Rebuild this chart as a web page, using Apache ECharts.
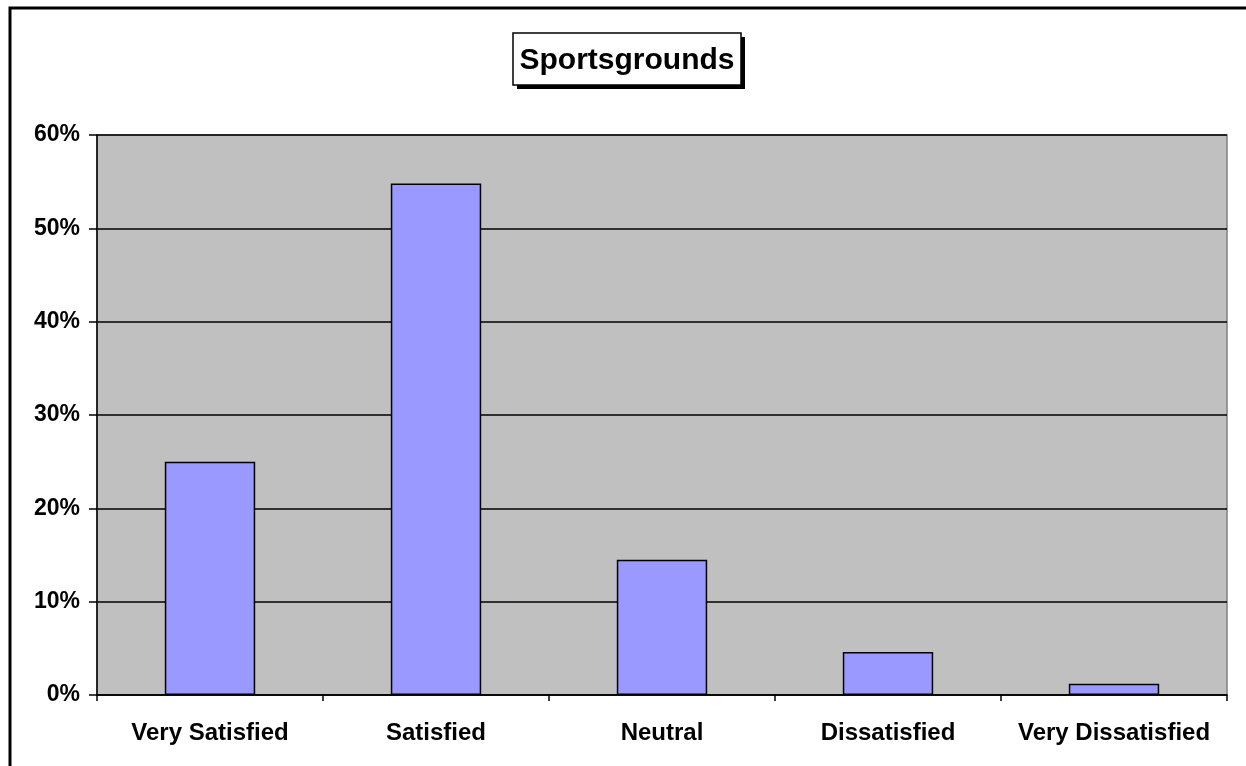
<!DOCTYPE html>
<html>
<head>
<meta charset="utf-8">
<script src="https://cdn.jsdelivr.net/npm/echarts@6/dist/echarts.min.js"></script>
<style>
  html, body { margin: 0; padding: 0; background: #fff; }
  #chart { width: 1246px; height: 766px; }
</style>
</head>
<body>
<div id="chart"></div>
<script>
// Survey results: satisfaction with sportsgrounds (share of responses, %)
const categories = ['Very Satisfied', 'Satisfied', 'Neutral', 'Dissatisfied', 'Very Dissatisfied'];
const shares = [25.0, 54.8, 14.5, 4.6, 1.2];
const chartTitle = 'Sportsgrounds';

const chart = echarts.init(document.getElementById('chart'), null, { renderer: 'canvas' });
const font = "'Liberation Sans', Arial, sans-serif";

// Framed title box with a solid drop shadow
const box = { x: 513, y: 33, w: 228, h: 52, shadow: 4 };

chart.setOption({
  animation: false,
  backgroundColor: '#ffffff',
  graphic: [
    {
      type: 'rect',
      silent: true,
      z: -10,
      shape: { x: 10, y: 8, width: 1300, height: 800 },
      style: { fill: 'none', stroke: '#000', lineWidth: 3 }
    },
    {
      type: 'rect',
      silent: true,
      shape: { x: box.x + box.shadow, y: box.y + box.shadow, width: box.w, height: box.h },
      style: { fill: '#000' }
    },
    {
      type: 'rect',
      silent: true,
      shape: { x: box.x, y: box.y, width: box.w, height: box.h },
      style: { fill: '#fff', stroke: '#000', lineWidth: 1.5 }
    },
    {
      type: 'text',
      silent: true,
      x: box.x + box.w / 2,
      y: box.y + box.h / 2 + 2,
      style: {
        text: chartTitle,
        fontFamily: font, fontSize: 30, fontWeight: 'bold', fill: '#000',
        align: 'center', verticalAlign: 'middle'
      }
    }
  ],
  grid: {
    left: 97, right: 19, top: 135, bottom: 71,
    show: true,
    backgroundColor: '#c0c0c0',
    borderColor: '#808080',
    borderWidth: 1.5
  },
  xAxis: {
    type: 'category',
    data: categories,
    axisLine: { show: true, lineStyle: { color: '#000', width: 1.5 } },
    axisTick: { show: true, interval: 0, length: 6, lineStyle: { color: '#000', width: 1.5 } },
    axisLabel: { interval: 0, fontFamily: font, fontSize: 24, fontWeight: 'bold', color: '#000', margin: 26 },
    splitLine: { show: false }
  },
  yAxis: {
    type: 'value',
    min: 0, max: 60, interval: 10,
    axisLine: { show: true, lineStyle: { color: '#000', width: 1.5 } },
    axisTick: { show: true, length: 8, lineStyle: { color: '#000', width: 1.5 } },
    axisLabel: { fontFamily: font, fontSize: 23, fontWeight: 'bold', color: '#000', margin: 17, formatter: '{value}%' },
    splitLine: { show: true, lineStyle: { color: '#000', width: 1.5 } }
  },
  series: [{
    type: 'bar',
    data: shares,
    barWidth: '40%',
    itemStyle: { color: '#9999ff', borderColor: '#000', borderWidth: 1.5 }
  }]
});
</script>
</body>
</html>
